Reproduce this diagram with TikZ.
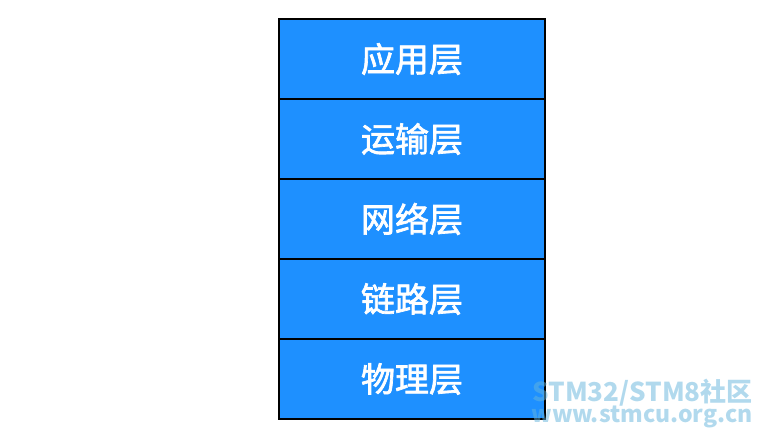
\documentclass[tikz,border=0pt]{standalone}
\usepackage{fontspec}
\setmainfont{Noto Sans CJK SC}
\newfontfamily\layerfont[FakeBold=2]{Noto Sans CJK SC}
\definecolor{layerblue}{RGB}{30,144,255}
\definecolor{markblue}{RGB}{100,180,220}
\begin{document}
\begin{tikzpicture}[x=1pt, y=-1pt, every node/.style={inner sep=0pt}]
	\useasboundingbox (0,0) rectangle (764,436);
	\tikzset{layer/.style={draw=black, line width=2.4pt, fill=layerblue, text=white,
			minimum width=266pt, minimum height=80pt, font=\layerfont\fontsize{34}{38}\selectfont}}
	\node[layer] (app) at (412,59) {应用层};
	\node[layer] (trans) at (412,139) {运输层};
	\node[layer] (net) at (412,219) {网络层};
	\node[layer] (link) at (412,299) {链路层};
	\node[layer] (phy) at (412,379) {物理层};
	% watermark
	\node[anchor=base east, text=markblue, text opacity=0.5, font=\bfseries\fontsize{26}{30}\selectfont] (mark) at (753,401) {STM32/STM8社区};
	\node[anchor=base east, text=markblue, text opacity=0.5, font=\bfseries\fontsize{23}{26}\selectfont] (site) at (753,422) {www.stmcu.org.cn};
\end{tikzpicture}
\end{document}
